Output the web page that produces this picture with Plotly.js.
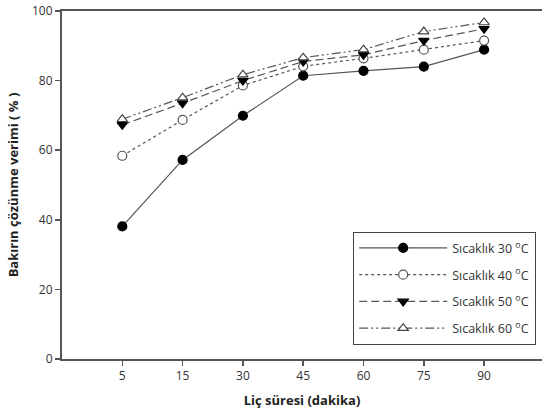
<!DOCTYPE html>
<html>
<head>
<meta charset="utf-8">
<script src="https://cdn.plot.ly/plotly-3.0.1.min.js"></script>
<style>html,body{margin:0;padding:0;background:#fff;}#chart{width:542px;height:414px;}</style>
</head>
<body>
<div id="chart"></div>
<script>
const timeLabels = ["5", "15", "30", "45", "60", "75", "90"];
const seriesNames = ["Sıcaklık 30 <sup>o</sup>C", "Sıcaklık 40 <sup>o</sup>C", "Sıcaklık 50 <sup>o</sup>C", "Sıcaklık 60 <sup>o</sup>C"];
const temp30 = [38.1, 57.2, 69.9, 81.4, 82.8, 84.0, 88.9];
const temp40 = [58.4, 68.7, 78.6, 84.1, 86.4, 88.9, 91.5];
const temp50 = [67.3, 73.5, 80.0, 85.5, 87.4, 91.5, 94.9];
const temp60 = [68.9, 75.1, 81.7, 86.6, 88.9, 94.1, 96.7];
const yTicks = [0, 20, 40, 60, 80, 100];

const xPos = timeLabels.map((_, i) => i + 1);
const font = "'Open Sans', 'Liberation Sans', sans-serif";

const styles = [
  {dash: "solid", symbol: "circle", fill: "#000", edge: "#000"},
  {dash: "dot", symbol: "circle", fill: "#fff", edge: "#555"},
  {dash: "8px,4px", symbol: "triangle-down", fill: "#000", edge: "#000"},
  {dash: "9px,3px,2px,3px,2px,3px", symbol: "triangle-up", fill: "#fff", edge: "#444"}
];
const data = [temp30, temp40, temp50, temp60].map((ys, k) => ({
  x: xPos, y: ys, name: seriesNames[k], type: "scatter", mode: "lines+markers",
  legendgroup: "g" + k,
  line: {color: "#555", width: 1.2, dash: styles[k].dash},
  marker: {symbol: styles[k].symbol, size: 9, color: styles[k].fill, line: {color: styles[k].edge, width: 1.2}}
}));

const layout = {
  width: 542, height: 414,
  margin: {l: 62, r: 0, t: 11, b: 55},
  paper_bgcolor: "#fff", plot_bgcolor: "#fff",
  font: {family: font, color: "#333", size: 12},
  showlegend: true,
  legend: {
    x: 0.606, y: 0.365, xanchor: "left", yanchor: "top",
    bordercolor: "#444", borderwidth: 1.3, bgcolor: "#fff",
    itemwidth: 88, font: {size: 12.5, color: "#333"}, traceorder: "grouped",
    tracegroupgap: 7.5
  },
  xaxis: {
    range: [0, 7.96], tickvals: xPos, ticktext: timeLabels,
    showline: true, linecolor: "#555", linewidth: 2, mirror: true,
    ticks: "outside", ticklen: 5, tickcolor: "#555", tickwidth: 1.5,
    showgrid: false, zeroline: false,
    tickfont: {size: 12, color: "#333"},
    title: {text: "<b>Liç süresi (dakika)</b>", font: {size: 13, color: "#222"}, standoff: 12}
  },
  yaxis: {
    range: [0, 100], tickvals: yTicks,
    showline: true, linecolor: "#555", linewidth: 2,
    ticks: "outside", ticklen: 5, tickcolor: "#555", tickwidth: 1.5,
    showgrid: false, zeroline: false,
    tickfont: {size: 12, color: "#333"},
    title: {text: "<b>Bakırın çözünme verimi ( % )</b>", font: {size: 13, color: "#222"}, standoff: 10}
  }
};

Plotly.newPlot("chart", data, layout, {displayModeBar: false, staticPlot: true});
</script>
</body>
</html>
